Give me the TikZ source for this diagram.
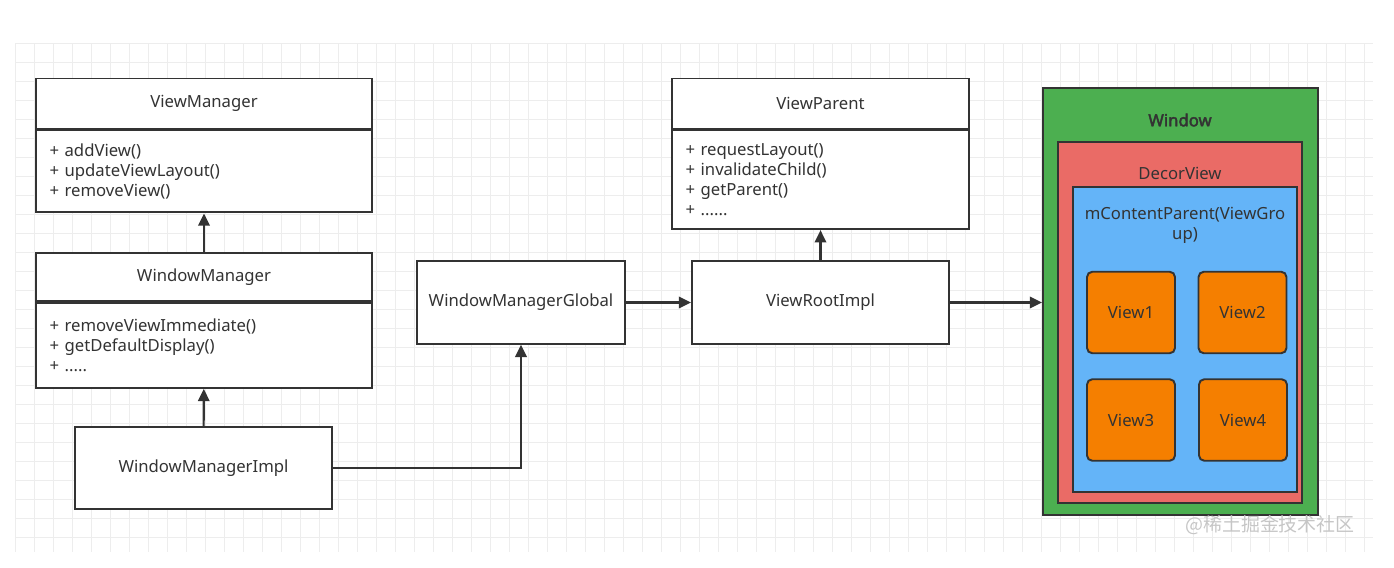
\documentclass[tikz,border=0pt]{standalone}
\usepackage{xcolor}
\usepackage{fontspec}
\setmainfont{Noto Sans}[AutoFakeBold=2.5]
\newfontfamily\cjkfont{Noto Sans CJK SC}
\usepackage{tikz}
\usetikzlibrary{shapes,arrows.meta,positioning}

\definecolor{txt}{HTML}{333333}
\definecolor{gridgray}{HTML}{EDEDED}
\definecolor{wingreen}{HTML}{4CAF50}
\definecolor{decorred}{HTML}{EA6B66}
\definecolor{contentblue}{HTML}{64B4F8}
\definecolor{vieworange}{HTML}{F57F00}

\begin{document}
\begin{tikzpicture}[x=0.02cm, y=-0.02cm, every node/.style={font=\fontsize{9.5}{11.3}\selectfont, text=txt}]
    \tikzstyle{titlebox} = [rectangle, draw=txt, line width=1.1pt, fill=white,
        minimum height=1.0cm, inner sep=0pt, align=center]
    \tikzstyle{opsbox} = [rectangle, draw=txt, line width=1.1pt, fill=white,
        minimum height=1.64cm, inner sep=0.27cm, align=left]
    \tikzstyle{classbox} = [rectangle, draw=txt, line width=1.1pt, fill=white,
        minimum height=1.65cm, align=center]
    \tikzstyle{layer} = [rectangle, draw=txt, line width=1.1pt]
    \tikzstyle{viewbox} = [rectangle, draw=txt, line width=1.1pt, rounded corners=3pt,
        fill=vieworange, minimum width=1.76cm, minimum height=1.63cm]
    \tikzstyle{arr} = [-{Triangle[length=7pt, width=6.5pt]}, draw=txt, line width=1.2pt]

    \useasboundingbox (0,0) rectangle (1394,568);
    % background grid
    \foreach \gx in {15,34,...,1373}
        \draw[gridgray, line width=0.5pt] (\gx,43) -- (\gx,552);
    \foreach \gy in {43,62,...,552}
        \draw[gridgray, line width=0.5pt] (15,\gy) -- (1373,\gy);

    % left column
    \node (vm) [titlebox, minimum width=6.72cm] at (204,103.5) {ViewManager};
    \node (vmops) [opsbox, text width=6.18cm, below=0pt of vm]
        {+ addView()\\+ updateViewLayout()\\+ removeView()};
    \node (wm) [titlebox, minimum width=6.72cm, minimum height=0.96cm] at (204,277) {WindowManager};
    \node (wmops) [opsbox, text width=6.18cm, minimum height=1.7cm, below=0pt of wm]
        {+ removeViewImmediate()\\+ getDefaultDisplay()\\+ .....};
    \node (wmi) [classbox, minimum width=5.14cm] at (203.5,468) {WindowManagerImpl};

    % middle
    \node (wmg) [classbox, minimum width=4.16cm] at (521,302.5) {WindowManagerGlobal};
    \node (vri) [classbox, minimum width=5.14cm] at (820.5,302.5) {ViewRootImpl};
    \node (vp) [titlebox, minimum width=5.94cm] at (820.5,103.5) {ViewParent};
    \node (vpops) [opsbox, text width=5.4cm, minimum height=1.62cm, below=0pt of vp]
        {+ requestLayout()\\+ invalidateChild()\\+ getParent()\\+ ......};

    % window hierarchy
    \node (window) [layer, fill=wingreen, minimum width=5.5cm, minimum height=8.54cm] at (1180.5,301.5) {};
    \node (decor) [layer, fill=decorred, minimum width=4.88cm, minimum height=7.22cm] at (1180,322.5) {};
    \node (content) [layer, fill=contentblue, minimum width=4.48cm, minimum height=6.1cm] at (1185,339.5) {};
    \node (wintitle) at (1180,120) {\bfseries Window};
    \node (decortitle) at (1180,173) {DecorView};
    \node (contenttitle) [align=center] at (1185,225) {mContentParent(ViewGro\\up)};
    \node (view1) [viewbox] at (1131,312.5) {View1};
    \node (view2) [viewbox] at (1242.5,312.5) {View2};
    \node (view3) [viewbox] at (1131,420) {View3};
    \node (view4) [viewbox] at (1243,420) {View4};

    \node (mark) [font=\cjkfont\fontsize{10.8}{12}\selectfont, text=gray!45] at (1270,525) {@稀土掘金技术社区};

    \draw [arr] (wm) -- (vmops);
    \draw [arr] (wmi) -- (wmops);
    \draw [arr] (wmi.east) -| (wmg.south);
    \draw [arr] (wmg) -- (vri);
    \draw [arr] (vri) -- (vpops);
    \draw [arr] (vri.east) -- (window.west |- vri.east);
\end{tikzpicture}
\end{document}
